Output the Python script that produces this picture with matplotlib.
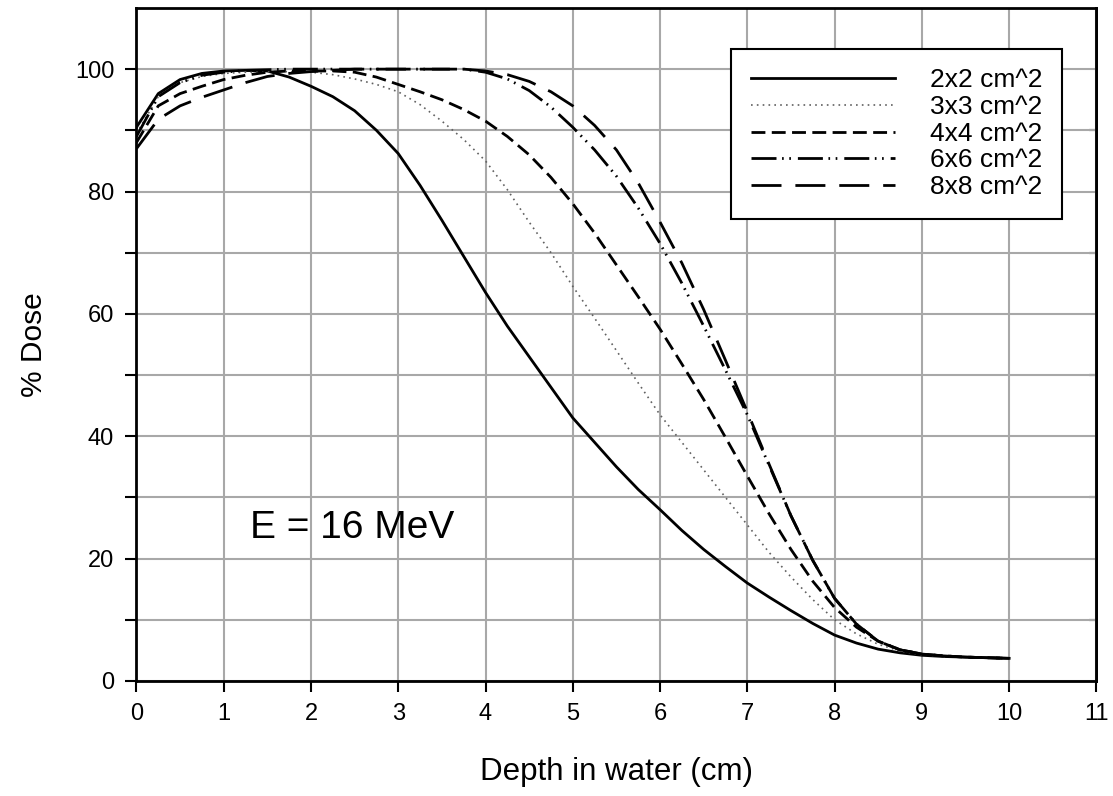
import numpy as np
import matplotlib.pyplot as plt

plt.rcParams['font.family'] = ['Liberation Sans', 'DejaVu Sans']

# depth in water (cm)
depth = [0, 0.25, 0.5, 0.75, 1, 1.25, 1.5, 1.75, 2, 2.25, 2.5, 2.75,
         3, 3.25, 3.5, 3.75, 4, 4.25, 4.5, 4.75, 5, 5.25, 5.5, 5.75,
         6, 6.25, 6.5, 6.75, 7, 7.25, 7.5, 7.75, 8, 8.25, 8.5, 8.75,
         9, 9.25, 9.5, 9.75, 10]

# % dose for each field size
dose_2x2 = [90.5, 96, 98.3, 99.3, 99.7, 99.8, 99.7, 98.7, 97.2, 95.5, 93.2, 90,
            86.2, 81, 75.3, 69.4, 63.5, 58, 53, 48, 43, 39, 35, 31.3,
            28, 24.6, 21.5, 18.7, 16, 13.7, 11.5, 9.4, 7.5, 6.2, 5.2, 4.6,
            4.2, 4.0, 3.9, 3.8, 3.7]
dose_3x3 = [89.5, 95.5, 97.8, 98.8, 99.3, 99.5, 99.6, 99.6, 99.5, 99.1, 98.4, 97.5,
            96.3, 94.2, 91.5, 88.5, 85, 80.3, 75, 70, 64.5, 59.3, 54, 48.7,
            43.5, 39, 34.5, 30, 25.5, 21, 17, 13.3, 10, 7.7, 6, 4.9,
            4.3, 4.0, 3.9, 3.8, 3.7]
dose_4x4 = [88, 94, 96, 97.2, 98.3, 99, 99.5, 99.7, 99.7, 99.7, 99.5, 98.7,
            97.5, 96.3, 95, 93.4, 91.5, 89, 86, 82.3, 78, 73.2, 68, 62.8,
            57.5, 51.8, 46, 39.8, 33.5, 27.3, 21.5, 16.3, 12, 8.8, 6.5, 5.1,
            4.4, 4.1, 3.9, 3.8, 3.7]
dose_6x6 = [89, 95.5, 97.8, 99, 99.5, 99.8, 99.9, 100, 100, 100, 100, 100,
            100, 100, 100, 100, 99.5, 98.4, 96.5, 93.8, 90.5, 86.8, 82.5, 77.3,
            71.5, 65, 58, 50.8, 43.5, 35.2, 27, 19.7, 13.5, 9.3, 6.5, 5.1,
            4.4, 4.1, 3.9, 3.8, 3.7]
dose_8x8 = [87, 91.8, 94, 95.4, 96.6, 97.8, 98.8, 99.3, 99.6, 99.8, 100, 100,
            100, 100, 100, 100, 99.7, 99.1, 98, 96.3, 94, 90.8, 86.8, 81.4,
            75, 68.3, 60.7, 52.4, 44, 35.4, 27, 19.7, 13.5, 9.3, 6.5, 5.1,
            4.4, 4.1, 3.9, 3.8, 3.7]

labels = ['2x2 cm^2', '3x3 cm^2', '4x4 cm^2', '6x6 cm^2', '8x8 cm^2']

fig = plt.figure(figsize=(11.13, 7.96), dpi=100)
ax = fig.add_axes([0.1226, 0.1445, 0.8625, 0.8455])

ax.plot(depth, dose_2x2, color='black', lw=2.0, ls='-', label=labels[0])
ax.plot(depth, dose_3x3, color='#606060', lw=1.2, ls=(0, (1, 2.5)), label=labels[1])
ax.plot(depth, dose_4x4, color='black', lw=2.0, ls=(0, (5, 2.3)), label=labels[2])
ax.plot(depth, dose_6x6, color='black', lw=2.0, ls=(0, (9, 2, 0.6, 2, 0.6, 2.5)), label=labels[3])
ax.plot(depth, dose_8x8, color='black', lw=2.0, ls=(0, (10.8, 5)), label=labels[4])

ax.set_xlim(0, 11)
ax.set_ylim(0, 110)
ax.set_xticks(range(0, 12))
ax.set_yticks(range(0, 101, 20))
ax.set_yticks(range(10, 110, 20), minor=True)
ax.tick_params(axis='both', which='major', labelsize=17, length=8, width=1.5, direction='out')
ax.tick_params(axis='x', pad=8)
ax.tick_params(axis='y', pad=8)
ax.tick_params(axis='y', which='minor', length=8, width=1.5, direction='out')
ax.grid(True, which='both', color='#a8a8a8', lw=1.5)
ax.set_axisbelow(True)
for s in ax.spines.values():
    s.set_linewidth(2)

sec = ax.secondary_yaxis('right')
sec.set_yticks(range(10, 100, 20))
sec.tick_params(direction='in', length=5, width=1.5, labelright=False)
sec.spines['right'].set_linewidth(2)

ax.set_xlabel('Depth in water (cm)', fontsize=22.5)
ax.xaxis.set_label_coords(0.5, -0.113)
ax.set_ylabel('% Dose', fontsize=21.5)
ax.yaxis.set_label_coords(-0.092, 0.5)

ax.text(1.3, 23.4, 'E = 16 MeV', fontsize=28, va='baseline', ha='left')

leg = ax.legend(loc='upper right', bbox_to_anchor=(0.9646, 0.9391), borderaxespad=0,
                fontsize=19, frameon=True, fancybox=False, edgecolor='black',
                framealpha=1, handlelength=5.45, handletextpad=1.36,
                borderpad=0.74, labelspacing=0.1)
leg.get_frame().set_linewidth(1.5)

fig.savefig('out.png', dpi=100)
